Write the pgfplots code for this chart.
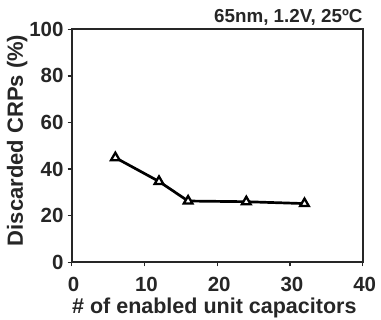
\documentclass[border=0pt]{standalone}
\usepackage{pgfplots}
\pgfplotsset{compat=1.18}
\usepackage{fontspec}
\setmainfont{Liberation Sans}
\definecolor{txt}{gray}{0.15}
\begin{document}
\begin{tikzpicture}
\useasboundingbox (-71.7pt,-57.7pt) rectangle (309.3pt,262.3pt);
\begin{axis}[
  scale only axis,
  width=291pt, height=233pt,
  xmin=0, xmax=40, ymin=0, ymax=100,
  xtick={0,10,20,30,40}, ytick={0,20,40,60,80,100},
  xtick pos=left, ytick pos=left,
  tick align=outside, major tick length=4pt,
  axis line style={line width=1.8pt, color=txt},
  tick style={line width=1.3pt, color=txt},
  /pgf/number format/assume math mode=true,
  ticklabel style={font=\fontsize{20.5}{24}\selectfont\bfseries, text=txt, inner sep=0pt},
  xticklabel style={anchor=base, yshift=-25pt, xshift=2pt},
  yticklabel style={anchor=east, xshift=-4pt},
  xlabel={\# of enabled unit capacitors},
  ylabel={\fontsize{22}{26}\selectfont Discarded CRPs (\%)},
  label style={font=\fontsize{21.5}{25}\selectfont\bfseries, text=txt, inner sep=0pt},
  xlabel style={at={(axis description cs:0.49,0)}, anchor=base, yshift=-51pt},
  ylabel style={at={(axis description cs:-0.168,0.523)}, anchor=base, rotate=0},
  clip=false,
]
\addplot[line width=2.7pt, color=black, mark=triangle*, mark size=5pt,
  mark options={fill=white, line width=2.3pt, line join=miter}]
coordinates {(6,44.9) (12,34.7) (16,26.3) (24,26) (32,25.2)};
\node[anchor=base east, inner sep=0pt, text=txt, font=\fontsize{18.8}{22}\selectfont\bfseries, yshift=7pt] at (rel axis cs:1,1) {65nm, 1.2V, 25ºC};
\end{axis}
\end{tikzpicture}
\end{document}
